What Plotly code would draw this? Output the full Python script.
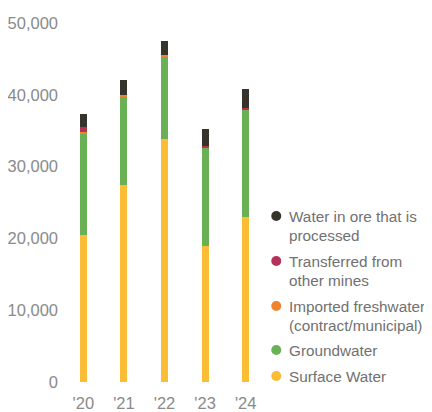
import plotly.graph_objects as go

years = ["'20", "'21", "'22", "'23", "'24"]

surface_water = [20500, 27400, 33800, 19000, 23000]
groundwater = [14000, 12400, 11500, 13600, 15000]
imported_freshwater = [300, 200, 200, 0, 0]
transferred = [700, 0, 0, 300, 200]
water_in_ore = [1800, 2000, 2000, 2300, 2600]

series = [
    ("Surface Water", surface_water, "#FBBC36"),
    ("Groundwater", groundwater, "#6AB155"),
    ("Imported freshwater<br>(contract/municipal)", imported_freshwater, "#EE8430"),
    ("Transferred from<br>other mines", transferred, "#B4325A"),
    ("Water in ore that is<br>processed", water_in_ore, "#36332C"),
]

# the page body has an 8px margin, so the figure sits at (8, 8)
OFF = 8
W, H = 432 - OFF, 412 - OFF
L, R, T, B = 55.25, 166.25, 15, 30
plot_w = W - L - R
plot_h = H - T - B


def to_paper(px, py):
    # px, py are page pixels
    return (px - OFF - L) / plot_w, (H - B - (py - OFF)) / plot_h


fig = go.Figure()
for name, values, color in series:
    fig.add_trace(go.Bar(
        x=years,
        y=values,
        name=name,
        marker=dict(color=color, line_width=0),
        width=0.173,
        showlegend=False,
    ))

# hand-placed legend: dot + wrapped label, top entry first
legend_top = [216, 261, 306, 350, 376]
for (name, _, color), y0 in zip(reversed(series), legend_top):
    mx, my = to_paper(276, y0)
    fig.add_shape(
        type="circle", xref="paper", yref="paper",
        xsizemode="pixel", ysizemode="pixel",
        xanchor=mx, yanchor=my,
        x0=-5, x1=5, y0=-5, y1=5,
        fillcolor=color, line_width=0,
    )
    for i, line in enumerate(name.split("<br>")):
        tx, ty = to_paper(287, y0 + i * 19.5)
        fig.add_annotation(
            x=tx, y=ty, xref="paper", yref="paper",
            xanchor="left", yanchor="middle",
            text=line, showarrow=False,
            font=dict(size=15.3, color="#717171"),
        )

fig.update_layout(
    barmode="stack",
    width=W,
    height=H,
    margin=dict(l=L, r=R, t=T, b=B, autoexpand=False),
    paper_bgcolor="white",
    plot_bgcolor="white",
    font=dict(family="Liberation Sans, Arial, sans-serif", size=16.5, color="#8a8a8a"),
    showlegend=False,
)
fig.update_xaxes(showgrid=False, showline=False, ticks="", ticklabelstandoff=9,
                 tickfont=dict(size=16.5))
fig.update_yaxes(
    range=[0, 50000],
    dtick=10000,
    tickformat=",",
    showgrid=False,
    showline=False,
    zeroline=False,
    ticks="",
    ticklabelstandoff=4,
)

fig.write_html("out.html")
